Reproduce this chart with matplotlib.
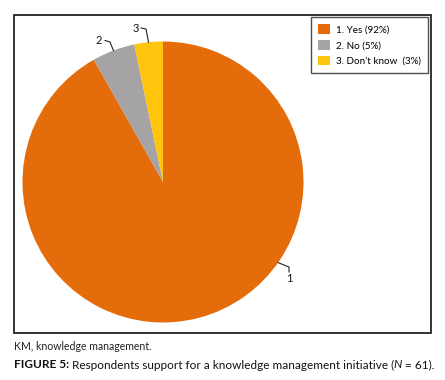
import numpy as np
import matplotlib
matplotlib.use("Agg")
import matplotlib.pyplot as plt
from matplotlib.patches import Rectangle

plt.rcParams['font.family'] = ['Lato', 'DejaVu Sans']

categories = ["1. Yes (92%)", "2. No (5%)", "3. Don\u2019t know  (3%)"]
counts = [56, 3, 2]
slice_labels = ["1", "2", "3"]
colors = ["#E46C0A", "#A5A3A3", "#FFC40C"]

W, H = 445, 380
fig = plt.figure(figsize=(W / 100, H / 100), dpi=100)

# pie axes: centre (163,182) px, radius 140.5 px
cx, cy, r = 163, 182, 140.5
ax = fig.add_axes([(cx - r) / W, (H - cy - r) / H, 2 * r / W, 2 * r / H])
wedges, _ = ax.pie(counts, colors=colors, startangle=90, counterclock=False,
                   radius=1, wedgeprops=dict(linewidth=0))
ax.set_xlim(-1, 1)
ax.set_ylim(-1, 1)
ax.set_aspect('equal')
ax.axis('off')

def px(x, y):
    return ((x - cx) / r, (cy - y) / r)

# leader lines and labels
mids = [np.deg2rad((w.theta1 + w.theta2) / 2) for w in wedges]
anchors = [(np.cos(np.deg2rad(-35)), np.sin(np.deg2rad(-35))),
           (np.cos(mids[1]), np.sin(mids[1])),
           (np.cos(mids[2]), np.sin(mids[2]))]
elbows = [px(289, 267), px(110, 42), px(146, 29)]
ends = [px(289, 272), px(105, 40.5), px(141, 28)]
texts = [px(289, 278.5), px(98.5, 41), px(135.5, 28)]
for lab, a, e, en, t in zip(slice_labels, anchors, elbows, ends, texts):
    ax.plot([a[0], e[0], en[0]], [a[1], e[1], en[1]], color="#222222",
            lw=0.8, clip_on=False)
    ax.text(t[0], t[1], lab, ha='center', va='center', fontsize=8,
            color="#111111", clip_on=False)

# legend
leg = fig.legend(wedges, categories, loc='upper left',
                 bbox_to_anchor=(311 / W, 1 - 17 / H), fontsize=7.1,
                 frameon=True, fancybox=False, edgecolor='#222222',
                 handlelength=1.15, handleheight=1.15, handletextpad=0.6,
                 labelspacing=0.55, borderpad=0.75, borderaxespad=0)
leg.get_frame().set_linewidth(1.0)

# outer border
fig.patches.append(Rectangle((13.5 / W, 1 - 332.5 / H), (431 - 13.5) / W,
                             (332.5 - 15) / H, transform=fig.transFigure,
                             fill=False, edgecolor='#111111', lw=1.2))

# captions
fig.text(13.5 / W, 1 - 346 / H, "KM, knowledge management.", fontsize=7.6,
         color="#222222", va='center', ha='left')

renderer = fig.canvas.get_renderer()
parts = [("FIGURE 5:", 'bold', 'normal', "#111111"),
         (" Respondents support for a knowledge management initiative (", 'normal', 'normal', "#111111"),
         ("N", 'normal', 'italic', "#111111"),
         (" = 61).", 'normal', 'normal', "#111111")]
x = 13.5 / W
for s, wt, st, c in parts:
    t = fig.text(x, 1 - 365 / H, s, fontsize=8.45, fontweight=wt, fontstyle=st,
                 color=c, va='center', ha='left')
    bb = t.get_window_extent(renderer=renderer)
    x += bb.width / (W)

fig.savefig("out.png", dpi=100)
